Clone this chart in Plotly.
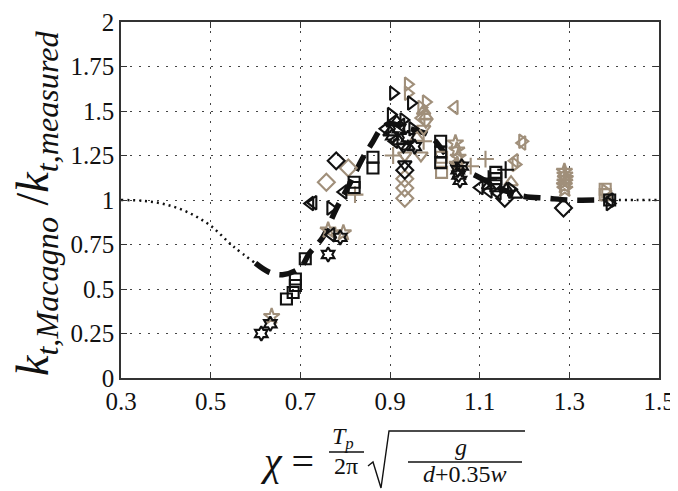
import plotly.graph_objects as go

# ---- curve (Macagno transmission ratio) ----
curve_x = [0.30, 0.35, 0.40, 0.45, 0.50, 0.55, 0.60, 0.63, 0.66, 0.70, 0.72, 0.75, 0.78, 0.81,
           0.84, 0.86, 0.88, 0.90, 0.93, 0.96, 0.99, 1.02, 1.05, 1.08, 1.12, 1.16, 1.20, 1.25,
           1.30, 1.37, 1.45, 1.50]
curve_y = [1.00, 0.995, 0.975, 0.93, 0.855, 0.74, 0.645, 0.595, 0.58, 0.62, 0.70, 0.79, 0.95, 1.09,
           1.24, 1.32, 1.40, 1.43, 1.41, 1.39, 1.36, 1.27, 1.18, 1.15, 1.10, 1.05, 1.02, 1.01,
           1.00, 1.00, 1.00, 1.00]
dash_start = 0.60
dash_end = 1.37

# ---- measured points (series by marker) ----
blk_hex_x = [0.613, 0.633, 0.762, 0.789, 1.051, 1.053, 1.056, 0.92, 0.94, 0.955, 1.06, 0.905]
blk_hex_y = [0.25, 0.305, 0.694, 0.79, 1.17, 1.14, 1.11, 1.40, 1.35, 1.30, 1.19, 1.36]

tan_star_x = [0.636, 0.762, 0.796, 1.046, 1.049, 1.052, 1.05, 1.289, 1.29, 1.291, 1.29, 1.289, 1.29]
tan_star_y = [0.345, 0.83, 0.815, 1.32, 1.28, 1.24, 1.20, 1.16, 1.14, 1.12, 1.10, 1.08, 1.06]

blk_sq_x = [0.669, 0.684, 0.689, 0.689, 0.711, 0.82, 0.82, 0.862, 0.862, 1.013, 1.013, 1.013,
            1.136, 1.136, 1.136, 1.39]
blk_sq_y = [0.444, 0.48, 0.52, 0.556, 0.67, 1.10, 1.07, 1.24, 1.18, 1.33, 1.27, 1.21,
            1.155, 1.12, 1.08, 1.0]

tan_sq_x = [1.015, 1.015, 1.38, 1.38]
tan_sq_y = [1.24, 1.155, 1.06, 1.03]

blk_dia_x = [0.78, 0.933, 1.156, 1.287]
blk_dia_y = [1.22, 1.167, 1.01, 0.955]

tan_dia_x = [0.807, 0.758, 0.933, 0.933, 0.933]
tan_dia_y = [1.18, 1.10, 1.12, 1.067, 1.01]

blk_tl_x = [0.722, 0.729, 0.796, 0.769, 0.89, 0.91, 1.10, 1.12, 1.14, 1.39, 0.925]
blk_tl_y = [0.98, 0.985, 1.045, 0.805, 1.40, 1.33, 1.07, 1.05, 1.04, 1.0, 1.42]

blk_tr_x = [0.767, 0.907, 0.947, 0.902, 0.93, 1.17, 1.39, 0.95]
blk_tr_y = [0.955, 1.60, 1.545, 1.48, 1.45, 1.06, 0.98, 1.40]

tan_tr_x = [0.94, 0.94, 0.98, 0.97, 1.195, 1.18, 1.38]
tan_tr_y = [1.65, 1.60, 1.55, 1.52, 1.33, 1.20, 1.05]

tan_tl_x = [1.044, 1.195, 1.178, 0.97]
tan_tl_y = [1.52, 1.32, 1.22, 1.46]

tan_td_x = [0.933, 0.969, 0.98, 0.975]
tan_td_y = [1.25, 1.25, 1.44, 1.40]

blk_tu_x = [0.90, 0.92, 0.94, 1.12, 1.16, 1.18, 0.915]
blk_tu_y = [1.38, 1.33, 1.30, 1.08, 1.06, 1.03, 1.44]

tan_tu_x = [0.975, 0.98, 0.96, 1.17]
tan_tu_y = [1.50, 1.47, 1.35, 1.10]

blk_td_x = [0.933, 0.93]
blk_td_y = [1.20, 1.30]

blk_plus_x = [1.158, 1.12]
blk_plus_y = [1.17, 1.12]

tan_plus_x = [0.822, 0.907, 1.08, 1.113, 0.975]
tan_plus_y = [1.03, 1.25, 1.19, 1.23, 1.33]

x_ticks = [0.3, 0.5, 0.7, 0.9, 1.1, 1.3, 1.5]
y_ticks = [0, 0.25, 0.5, 0.75, 1, 1.25, 1.5, 1.75, 2]
y_tick_text = ["0", "0.25", "0.5", "0.75", "1", "1.25", "1.5", "1.75", "2"]

BLACK = "#111111"
TAN = "#a08f7a"

fig = go.Figure()

# curve segments
seg1 = [(x, y) for x, y in zip(curve_x, curve_y) if x <= dash_start]
seg2 = [(x, y) for x, y in zip(curve_x, curve_y) if dash_start <= x <= dash_end]
seg3 = [(x, y) for x, y in zip(curve_x, curve_y) if x >= dash_end]
for seg, dash, w in [(seg1, "2px,4px", 2.5), (seg3, "2px,4px", 2.5), (seg2, "17px,10px", 5.5)]:
    fig.add_trace(go.Scatter(x=[p[0] for p in seg], y=[p[1] for p in seg], mode="lines",
                             line=dict(color=BLACK, width=w, dash=dash, shape="spline"),
                             showlegend=False, hoverinfo="skip"))

series = [
    (tan_star_x, tan_star_y, "star-open", TAN, 12),
    (tan_sq_x, tan_sq_y, "square-open", TAN, 11),
    (tan_dia_x, tan_dia_y, "diamond-open", TAN, 13),
    (tan_tr_x, tan_tr_y, "triangle-right-open", TAN, 12),
    (tan_tl_x, tan_tl_y, "triangle-left-open", TAN, 12),
    (tan_td_x, tan_td_y, "triangle-down-open", TAN, 12),
    (tan_tu_x, tan_tu_y, "triangle-up-open", TAN, 12),
    (tan_plus_x, tan_plus_y, "cross-thin-open", TAN, 12),
    (blk_hex_x, blk_hex_y, "hexagram-open", BLACK, 11),
    (blk_sq_x, blk_sq_y, "square-open", BLACK, 11),
    (blk_dia_x, blk_dia_y, "diamond-open", BLACK, 13),
    (blk_tl_x, blk_tl_y, "triangle-left-open", BLACK, 12),
    (blk_tr_x, blk_tr_y, "triangle-right-open", BLACK, 12),
    (blk_tu_x, blk_tu_y, "triangle-up-open", BLACK, 12),
    (blk_td_x, blk_td_y, "triangle-down-open", BLACK, 12),
    (blk_plus_x, blk_plus_y, "cross-thin-open", BLACK, 12),
]
for xs, ys, sym, col, sz in series:
    fig.add_trace(go.Scatter(x=xs, y=ys, mode="markers",
                             marker=dict(symbol=sym, size=sz, color=col,
                                         line=dict(color=col, width=2.1)),
                             showlegend=False, hoverinfo="skip"))

# the page body adds an 8px margin; the figure is sized to fit inside the window
OFF = 8
W, H = 670, 483
L, R, T, B = 113, 19, 14, 113
PW, PH = W - L - R, H - T - B


def px(xs):
    return (xs - OFF - L) / PW


def py(ys):
    return (H - B - (ys - OFF)) / PH


serif = "Liberation Serif"
axis_common = dict(showline=True, linecolor="#333333", linewidth=1.5, mirror="ticks",
                   ticks="inside", ticklen=6, tickwidth=1.2, tickcolor="#333333",
                   showgrid=True, gridcolor="#444444", gridwidth=1.3, griddash="2px,7px",
                   zeroline=False, ticklabeloverflow="allow", automargin=False,
                   tickfont=dict(family=serif, size=25, color="#111111"))

fig.update_xaxes(range=[0.3, 1.5], tickvals=x_ticks, ticktext=[str(v) for v in x_ticks],
                 **axis_common)
fig.update_yaxes(range=[0, 2], tickvals=y_ticks, ticktext=y_tick_text, **axis_common)

ann = []
# y-axis title
ann.append(dict(text="<i>k</i><sub><i>t,Macagno</i></sub> /<i>k</i><sub><i>t,measured</i></sub>",
                x=px(36), y=py(203), xref="paper", yref="paper", textangle=-90,
                showarrow=False, font=dict(family=serif, size=46, color="#111111"),
                xanchor="center", yanchor="middle"))
# x-axis title pieces
ann.append(dict(text="<i>χ</i> =", x=px(287), y=py(461), xref="paper", yref="paper",
                showarrow=False, font=dict(family=serif, size=40, color="#111111"),
                xanchor="center", yanchor="middle"))
ann.append(dict(text="<i>T<sub>p</sub></i>", x=px(343), y=py(438), xref="paper", yref="paper",
                showarrow=False, font=dict(family=serif, size=24, color="#111111"),
                xanchor="center", yanchor="middle"))
ann.append(dict(text="2π", x=px(346), y=py(466), xref="paper", yref="paper",
                showarrow=False, font=dict(family=serif, size=24, color="#111111"),
                xanchor="center", yanchor="middle"))
ann.append(dict(text="<i>g</i>", x=px(461), y=py(447), xref="paper", yref="paper",
                showarrow=False, font=dict(family=serif, size=24, color="#111111"),
                xanchor="center", yanchor="middle"))
ann.append(dict(text="<i>d</i>+0.35<i>w</i>", x=px(465), y=py(474), xref="paper", yref="paper",
                showarrow=False, font=dict(family=serif, size=24, color="#111111"),
                xanchor="center", yanchor="middle"))

shapes = [
    dict(type="line", xref="paper", yref="paper", x0=px(329), x1=px(364), y0=py(452), y1=py(452),
         line=dict(color="#111111", width=1.3)),
    dict(type="line", xref="paper", yref="paper", x0=px(408), x1=px(522), y0=py(462), y1=py(462),
         line=dict(color="#111111", width=1.3)),
    dict(type="path", xref="paper", yref="paper",
         path=f"M {px(368)},{py(466)} L {px(373)},{py(462)} L {px(381)},{py(488)} "
              f"L {px(389)},{py(431)} L {px(525)},{py(431)}",
         line=dict(color="#111111", width=1.4)),
]

fig.update_layout(width=W, height=H, margin=dict(l=L, r=R, t=T, b=B, autoexpand=False),
                  paper_bgcolor="white", plot_bgcolor="white",
                  annotations=ann, shapes=shapes, showlegend=False)

fig.write_html("out.html")
